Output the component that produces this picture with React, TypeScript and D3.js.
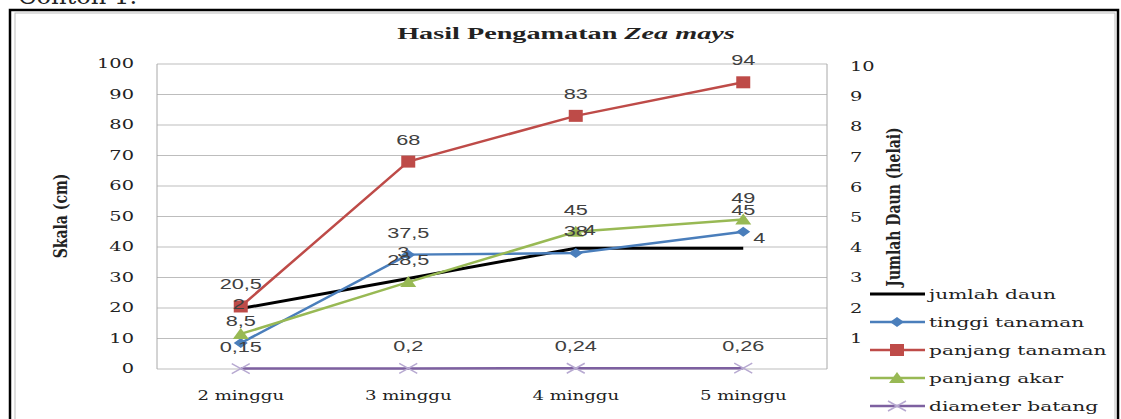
import * as d3 from "d3";
import React from "react";

const categories = ["2 minggu", "3 minggu", "4 minggu", "5 minggu"];
const jumlahDaun = [2, 3, 4, 4];
const tinggiTanaman = [8.5, 37.5, 38, 45];
const panjangTanaman = [20.5, 68, 83, 94];
const panjangAkar = [11.5, 28.5, 45, 49];
const diameterBatang = [0.15, 0.2, 0.24, 0.26];
const leftTicks = [0, 10, 20, 30, 40, 50, 60, 70, 80, 90, 100];
const rightTicks = [1, 2, 3, 4, 5, 6, 7, 8, 9, 10];

const W = 1121;
const H = 419;
const SX = 1.5; // the picture is stretched sideways
const plot = { left: 157, right: 827, top: 64, bottom: 369 };

const serif = "'DejaVu Serif', serif";
const sans = "'Liberation Sans', Arial, sans-serif";

const fmt = (v: number) => String(v).replace(".", ",");

const STx = ({ x, y, size, anchor = "start", weight = "normal", family = serif, fill = "#222", sx = SX, children, rotate = false }: any) => (
  <text
    transform={`translate(${x},${y}) scale(${sx},1)${rotate ? " rotate(-90)" : ""}`}
    fontSize={size}
    fontFamily={family}
    fontWeight={weight}
    textAnchor={anchor}
    fill={fill}
  >
    {children}
  </text>
);

type Series = { name: string; values: number[]; color: string; marker: string; axis: "left" | "right" };

const series: Series[] = [
  { name: "jumlah daun", values: jumlahDaun, color: "#000000", marker: "none", axis: "right" },
  { name: "tinggi tanaman", values: tinggiTanaman, color: "#4A7EBB", marker: "diamond", axis: "left" },
  { name: "panjang tanaman", values: panjangTanaman, color: "#BE4B48", marker: "square", axis: "left" },
  { name: "panjang akar", values: panjangAkar, color: "#98B954", marker: "triangle", axis: "left" },
  { name: "diameter batang", values: diameterBatang, color: "#7D60A0", marker: "cross", axis: "left" },
];

const Marker = ({ type, x, y, color }: { type: string; x: number; y: number; color: string }) => {
  if (type === "square") return <rect x={x - 7} y={y - 6} width={14} height={12} fill={color} />;
  if (type === "diamond") return <path d={`M${x - 7},${y} L${x},${y - 5} L${x + 7},${y} L${x},${y + 5} Z`} fill={color} />;
  if (type === "triangle") return <path d={`M${x - 8},${y + 5} L${x},${y - 6} L${x + 8},${y + 5} Z`} fill={color} />;
  if (type === "cross")
    return <path d={`M${x - 9},${y - 5} L${x + 9},${y + 5} M${x - 9},${y + 5} L${x + 9},${y - 5}`} stroke="#B7A9D1" strokeWidth={1.5} />;
  return null;
};

export default function App() {
  const x = d3.scaleBand().domain(categories).range([plot.left, plot.right]);
  const xc = (c: string) => (x(c) ?? 0) + x.bandwidth() / 2;
  const yL = d3.scaleLinear().domain([0, 100]).range([plot.bottom, plot.top]);
  const yR = d3.scaleLinear().domain([0, 10]).range([plot.bottom, plot.top + 3]);

  // where each value label sits relative to its point
  const labelPos = (s: Series, i: number, px: number, py: number) => {
    if (s.axis === "right") {
      if (i === 0) return [px - 2, py - 5];
      if (i === 1) return [px - 5, py - 26];
      if (i === 2) return [px + 14, py - 18];
      return [px + 16, py - 10];
    }
    return [px, py - 22];
  };

  return (
    <svg width={W} height={H} style={{ position: "absolute", left: 0, top: 0, background: "#fff" }}>
      <STx x={18} y={4} size={23} sx={1.05}>Contoh 1.</STx>
      <rect x={10} y={10} width={1108} height={430} fill="none" stroke="#000" strokeWidth={2.5} />
      <rect x={15} y={13} width={1100} height={430} fill="none" stroke="#BDBDBD" strokeWidth={1} />

      <STx x={566} y={39} size={17} anchor="middle" weight="bold" sx={1.66} family="'Liberation Serif', serif">
        Hasil Pengamatan <tspan fontStyle="italic">Zea mays</tspan>
      </STx>

      {leftTicks.map((t) => (
        <line key={t} x1={plot.left} x2={plot.right} y1={yL(t)} y2={yL(t)} stroke="#BDBDBD" strokeWidth={1.2} />
      ))}
      <line x1={plot.left} x2={plot.left} y1={plot.top} y2={plot.bottom} stroke="#A8A8A8" />
      <line x1={plot.right} x2={plot.right} y1={plot.top} y2={plot.bottom} stroke="#A8A8A8" />

      {leftTicks.map((t) => (
        <STx key={t} x={134} y={yL(t) + 4} size={12.5} anchor="end" sx={1.55}>{t}</STx>
      ))}
      {rightTicks.map((t) => (
        <STx key={t} x={850} y={yR(t) + 4} size={12.5} sx={1.55}>{t}</STx>
      ))}
      {categories.map((c) => (
        <STx key={c} x={xc(c)} y={400} size={12.5} anchor="middle" sx={1.45}>{c}</STx>
      ))}

      <STx x={67} y={216} size={14} anchor="middle" weight="bold" sx={1.3} rotate>Skala (cm)</STx>
      <STx x={900} y={207} size={14} anchor="middle" weight="bold" sx={1.3} rotate>Jumlah Daun (helai)</STx>

      {series.map((s) => {
        const yS = s.axis === "right" ? yR : yL;
        const line = d3
          .line<number>()
          .x((_, i) => xc(categories[i]))
          .y((v) => yS(v));
        return (
          <g key={s.name}>
            <path d={line(s.values) ?? ""} fill="none" stroke={s.color} strokeWidth={s.axis === "right" ? 3 : 2.5} />
            {s.values.map((v, i) => (
              <Marker key={i} type={s.marker} x={xc(categories[i])} y={yS(v)} color={s.color} />
            ))}
          </g>
        );
      })}

      {series.map((s) => {
        const yS = s.axis === "right" ? yR : yL;
        return s.values.map((v, i) => {
          if (s.name === "panjang akar" && i === 0) return null;
          const [lx, ly] = labelPos(s, i, xc(categories[i]), yS(v));
          return (
            <STx key={s.name + i} x={lx} y={ly + 5} size={14} anchor="middle" family={sans} fill="#404040" sx={1.55}>
              {fmt(v)}
            </STx>
          );
        });
      })}

      {series.map((s, i) => {
        const ly = 294 + i * 28;
        return (
          <g key={s.name}>
            <line x1={870} x2={925} y1={ly} y2={ly} stroke={s.color} strokeWidth={s.axis === "right" ? 3 : 2.5} />
            <Marker type={s.marker} x={897} y={ly} color={s.color} />
            <STx x={929} y={ly + 5} size={13} sx={1.55}>{s.name}</STx>
          </g>
        );
      })}
    </svg>
  );
}
